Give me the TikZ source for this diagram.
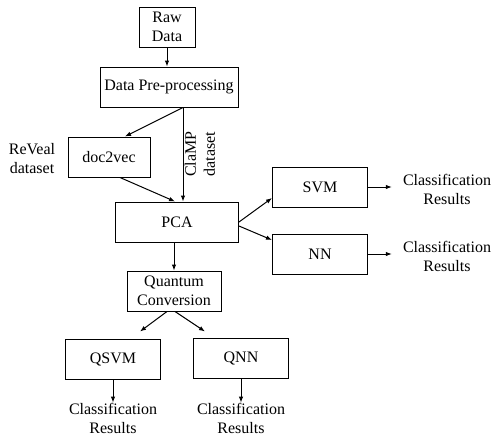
\documentclass[tikz,border=0pt]{standalone}
\usepackage{fontspec}
\setmainfont{Liberation Serif}
\usetikzlibrary{arrows.meta}
\usetikzlibrary{positioning}

\begin{document}
\begin{tikzpicture}[x=1pt,y=-1pt,
		block/.style={rectangle,draw=black,line width=1pt,minimum height=40pt,align=center,inner sep=2pt},
		txt/.style={align=center,inner sep=0pt},
		flow/.style={-{Latex[length=6pt,width=4.5pt]},line width=1pt},
		font=\fontsize{16}{19}\selectfont]
		
		\useasboundingbox (0,0) rectangle (492,437);
		
		% input side
		\node[block,minimum width=56pt] (raw) at (167,27) {Raw\\Data};
		\node[block,minimum width=138pt] (pre) at (169,87) {Data Pre-processing};
		\node[block,minimum width=82pt] (doc) at (109,157) {doc2vec};
		\node[txt] (reveal) at (32,159) {ReVeal\\dataset};
		
		% feature reduction
		\node[block,minimum width=123pt] (pca) at (177,222) {PCA};
		
		% classical classifiers
		\node[block,minimum width=95pt] (svm) at (320,187) {SVM};
		\node[block,minimum width=95pt] (nn) at (320,254) {NN};
		\node[txt] (res1) at (447,189) {Classification\\Results};
		\node[txt] (res2) at (447,256) {Classification\\Results};
		
		% quantum classifiers
		\node[block,minimum width=94pt] (qc) at (174,291) {Quantum\\Conversion};
		\node[block,minimum width=95pt] (qsvm) at (113,359) {QSVM};
		\node[block,minimum width=95pt] (qnn) at (241,358) {QNN};
		\node[txt] (res3) at (113,418) {Classification\\Results};
		\node[txt] (res4) at (241,418) {Classification\\Results};
		
		% ClaMP path, label turned along the arrow
		\coordinate (clamp) at ([xshift=14pt]pre.south);
		\node[txt,rotate=90] (clampLbl) at (200,154) {ClaMP\\dataset};
		
		% connectors
		\draw[flow] (raw) -- (raw |- pre.north);
		\draw[flow] (clamp) -- ([xshift=16pt]doc.north);
		\draw[flow] (clamp) -- (clamp |- pca.north);
		\draw[flow] ([xshift=11pt]doc.south) -- ([xshift=-2pt]pca.north);
		\draw[flow] (pca.east) -- ([yshift=-11pt]svm.west);
		\draw[flow] ([yshift=-4pt]pca.east) -- ([yshift=14pt]nn.west);
		\draw[flow,shorten >=11pt] (svm.east) -- (svm.east -| res1.west);
		\draw[flow,shorten >=11pt] (nn.east) -- (nn.east -| res2.west);
		\draw[flow] (qc |- pca.south) -- (qc.north);
		\draw[flow] ([xshift=-7pt]qc.south) -- ([xshift=27pt,yshift=7pt]qsvm.north);
		\draw[flow] ([xshift=1pt]qc.south) -- ([xshift=-36pt,yshift=6pt]qnn.north);
		\draw[flow] (qsvm.south) -- (qsvm.south |- res3.north);
		\draw[flow] (qnn.south) -- (qnn.south |- res4.north);
		
\end{tikzpicture}
\end{document}
